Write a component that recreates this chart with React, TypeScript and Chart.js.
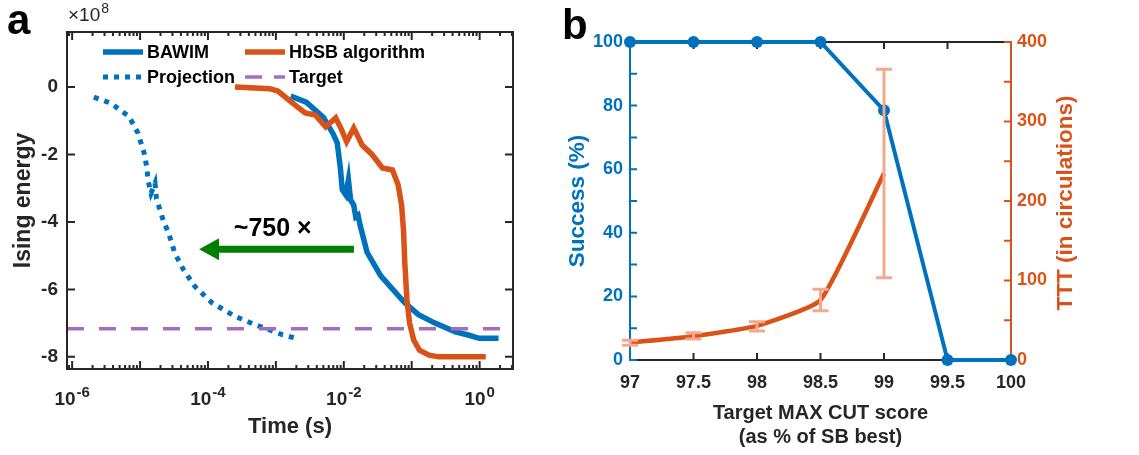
import React, { useEffect, useRef } from 'react';
import { Chart, registerables } from 'chart.js';
Chart.register(...registerables);

const FONT = '"Liberation Sans", Arial, Helvetica, sans-serif';
const DARK = '#262626';
const BLUE = '#0072BD';
const ORANGE = '#D95319';
const PURPLE = '#A66DBF';
const ERR = '#F2A98C';
const GREEN = '#008000';

// ---------- Panel a data (energy in units of 1e8) ----------
const bawimTime = [1.65e-3, 2.8e-3, 5e-3, 7e-3, 8e-3, 8.9e-3, 9.5e-3, 1.07e-2, 1.17e-2, 1.26e-2, 1.4e-2, 1.5e-2, 1.62e-2, 1.74e-2, 2.2e-2, 3.5e-2, 7.9e-2, 0.126, 0.22, 0.44, 0.7, 0.98, 1.9];
const bawimEnergy = [-0.27, -0.45, -0.9, -1.4, -1.66, -2.4, -3.05, -3.2, -2.75, -3.35, -3.5, -3.85, -3.8, -4.1, -4.9, -5.6, -6.4, -6.75, -7.0, -7.26, -7.36, -7.45, -7.45];
const hbsbTime = [2.5e-4, 8.1e-4, 1.07e-3, 1.9e-3, 2.7e-3, 3.8e-3, 5.4e-3, 7.6e-3, 9.3e-3, 1.1e-2, 1.4e-2, 1.86e-2, 2.6e-2, 3.7e-2, 5.2e-2, 6.3e-2, 7.1e-2, 7.6e-2, 7.9e-2, 8.5e-2, 9.3e-2, 0.107, 0.13, 0.18, 0.25, 1.23];
const hbsbEnergy = [0, -0.05, -0.12, -0.53, -0.77, -0.83, -1.18, -0.92, -1.27, -1.62, -1.22, -1.72, -2.0, -2.4, -2.46, -2.9, -3.5, -4.3, -5.2, -6.3, -7.0, -7.5, -7.8, -7.95, -8.0, -8.0];
const projTime = [2.09e-6, 3.72e-6, 6.9e-6, 9.3e-6, 1.15e-5, 1.26e-5, 1.32e-5, 1.45e-5, 1.66e-5, 1.74e-5, 1.9e-5, 2.19e-5, 2.63e-5, 3.24e-5, 4.37e-5, 6.46e-5, 1.15e-4, 2.51e-4, 5.0e-4, 8.1e-4, 1.26e-3, 2.0e-3];
const projEnergy = [-0.3, -0.48, -0.88, -1.36, -1.96, -2.4, -2.8, -3.15, -2.85, -3.3, -3.55, -3.95, -4.33, -4.92, -5.42, -5.92, -6.4, -6.8, -7.05, -7.2, -7.35, -7.45];
const targetEnergy = -7.17;
const timeRange = [8.4e-7, 3.1];
const energyRange = [-8.36, 1.63];
const energyTicks = [-8, -6, -4, -2, 0];
const timeLabelExps = [-6, -4, -2, 0];
const arrowFrom = { x: 0.0141, y: -4.81 };
const arrowTo = { x: 7.4e-5, y: -4.81 };
const speedupLabel = '~750 ×';
const speedupPos = { x: 9e-4, y: -4.2 };
const legendLabels = ['BAWIM', 'HbSB algorithm', 'Projection', 'Target'];

// ---------- Panel b data ----------
const cutScore = [97, 97.5, 98, 98.5, 99, 99.5, 100];
const successPct = [100, 100, 100, 100, 78.5, 0, 0];
const tttScore = [97, 97.5, 98, 98.5, 99];
const tttMean = [22, 30, 43, 75.5, 235];
const tttLow = [18.5, 26.3, 36.5, 62, 103.5];
const tttHigh = [25, 34.3, 48, 89, 365.6];
const cutTicks = [97, 97.5, 98, 98.5, 99, 99.5, 100];
const successTicks = [0, 20, 40, 60, 80, 100];
const successTickMarks = [0, 10, 20, 30, 40, 50, 60, 70, 80, 90, 100];
const tttTicks = [0, 100, 200, 300, 400];
const tttTickMarks = [0, 50, 100, 150, 200, 250, 300, 350, 400];

const W_A = 560;
const W_B = 579;
const H = 455;

const panelAPlugin = {
  id: 'panelA',
  afterDatasetsDraw(chart: any) {
    const { ctx, chartArea } = chart;
    const { left, right, top, bottom } = chartArea;
    const xs = chart.scales.x;
    const ys = chart.scales.y;
    ctx.save();
    ctx.strokeStyle = DARK;
    ctx.lineWidth = 2;
    ctx.strokeRect(left, top, right - left, bottom - top);
    ctx.beginPath();
    energyTicks.forEach((v) => {
      const py = ys.getPixelForValue(v);
      ctx.moveTo(left, py); ctx.lineTo(left + 8, py);
      ctx.moveTo(right, py); ctx.lineTo(right - 8, py);
    });
    const [mn, mx] = timeRange;
    for (let d = -7; d <= 1; d++) {
      for (let m = 1; m <= 9; m++) {
        const v = m * Math.pow(10, d);
        if (v < mn || v > mx) continue;
        const px = xs.getPixelForValue(v);
        const len = m === 1 ? 8 : 4;
        ctx.moveTo(px, bottom); ctx.lineTo(px, bottom - len);
        ctx.moveTo(px, top); ctx.lineTo(px, top + len);
      }
    }
    ctx.stroke();
    ctx.fillStyle = DARK;
    ctx.textBaseline = 'alphabetic';
    ctx.textAlign = 'left';
    timeLabelExps.forEach((e) => {
      const px = xs.getPixelForValue(Math.pow(10, e));
      ctx.font = `bold 19px ${FONT}`;
      const w1 = ctx.measureText('10').width;
      ctx.font = `bold 15px ${FONT}`;
      const es = String(e);
      const w2 = ctx.measureText(es).width;
      const x0 = px - (w1 + w2 + 1) / 2;
      ctx.font = `bold 19px ${FONT}`;
      ctx.fillText('10', x0, bottom + 36);
      ctx.font = `bold 15px ${FONT}`;
      ctx.fillText(es, x0 + w1 + 1, bottom + 28);
    });
    ctx.font = `19px ${FONT}`;
    ctx.fillText('×10', left + 1, top - 11);
    const wm = ctx.measureText('×10').width;
    ctx.font = `14px ${FONT}`;
    ctx.fillText('8', left + 2 + wm, top - 19);

    const rows = [top + 20, top + 45];
    const cols = [left + 36, left + 178];
    const items = [
      { label: legendLabels[0], color: BLUE, dash: [] as number[], w: 5.5, r: 0, c: 0 },
      { label: legendLabels[1], color: ORANGE, dash: [] as number[], w: 5.5, r: 0, c: 1 },
      { label: legendLabels[2], color: BLUE, dash: [5, 6], w: 5, r: 1, c: 0 },
      { label: legendLabels[3], color: PURPLE, dash: [17, 12], w: 3.5, r: 1, c: 1 },
    ];
    items.forEach((it) => {
      const y = rows[it.r];
      const x = cols[it.c];
      ctx.beginPath();
      ctx.setLineDash(it.dash);
      ctx.lineCap = 'butt';
      ctx.strokeStyle = it.color;
      ctx.lineWidth = it.w;
      ctx.moveTo(x, y); ctx.lineTo(x + 40, y);
      ctx.stroke();
      ctx.setLineDash([]);
      ctx.font = `bold 18px ${FONT}`;
      ctx.fillStyle = '#000';
      ctx.textBaseline = 'middle';
      ctx.fillText(it.label, x + 44, y + 1);
    });

    const x1 = xs.getPixelForValue(arrowFrom.x);
    const x2 = xs.getPixelForValue(arrowTo.x);
    const ay = ys.getPixelForValue(arrowFrom.y);
    ctx.fillStyle = GREEN;
    const headLen = 20, headHalf = 11, shaft = 7;
    ctx.fillRect(x2 + headLen - 1, ay - shaft / 2, x1 - (x2 + headLen - 1), shaft);
    ctx.beginPath();
    ctx.moveTo(x2, ay);
    ctx.lineTo(x2 + headLen, ay - headHalf);
    ctx.lineTo(x2 + headLen, ay + headHalf);
    ctx.closePath();
    ctx.fill();
    ctx.fillStyle = '#000';
    ctx.font = `bold 25px ${FONT}`;
    ctx.textAlign = 'center';
    ctx.textBaseline = 'middle';
    ctx.fillText(speedupLabel, xs.getPixelForValue(speedupPos.x), ys.getPixelForValue(speedupPos.y));
    ctx.restore();
  },
};

const panelBPlugin = {
  id: 'panelB',
  beforeDatasetsDraw(chart: any) {
    const { ctx, chartArea } = chart;
    const { left, right, top, bottom } = chartArea;
    const xs = chart.scales.x;
    const ys = chart.scales.y;
    const y2 = chart.scales.y2;
    ctx.save();
    ctx.lineWidth = 2;
    ctx.strokeStyle = DARK;
    ctx.beginPath();
    ctx.moveTo(left, top); ctx.lineTo(right, top);
    ctx.moveTo(left, bottom); ctx.lineTo(right, bottom);
    cutTicks.forEach((v) => {
      const px = xs.getPixelForValue(v);
      ctx.moveTo(px, bottom); ctx.lineTo(px, bottom - 7);
      ctx.moveTo(px, top); ctx.lineTo(px, top + 7);
    });
    ctx.stroke();
    ctx.strokeStyle = BLUE;
    ctx.beginPath();
    ctx.moveTo(left, top - 1); ctx.lineTo(left, bottom + 1);
    successTickMarks.forEach((v) => {
      const py = ys.getPixelForValue(v);
      ctx.moveTo(left, py); ctx.lineTo(left + 7, py);
    });
    ctx.stroke();
    ctx.strokeStyle = ORANGE;
    ctx.beginPath();
    ctx.moveTo(right, top - 1); ctx.lineTo(right, bottom + 1);
    tttTickMarks.forEach((v) => {
      const py = y2.getPixelForValue(v);
      ctx.moveTo(right, py); ctx.lineTo(right - 7, py);
    });
    ctx.stroke();
    ctx.restore();
  },
  afterDatasetsDraw(chart: any) {
    const { ctx, chartArea } = chart;
    const xs = chart.scales.x;
    const y2 = chart.scales.y2;
    ctx.save();
    ctx.strokeStyle = ERR;
    ctx.lineWidth = 3;
    ctx.beginPath();
    tttScore.forEach((s, i) => {
      const px = xs.getPixelForValue(s);
      const lo = y2.getPixelForValue(tttLow[i]);
      const hi = y2.getPixelForValue(tttHigh[i]);
      ctx.moveTo(px, lo); ctx.lineTo(px, hi);
      ctx.moveTo(px - 8, lo); ctx.lineTo(px + 8, lo);
      ctx.moveTo(px - 8, hi); ctx.lineTo(px + 8, hi);
    });
    ctx.stroke();
    ctx.fillStyle = ORANGE;
    ctx.font = `bold 22.5px ${FONT}`;
    ctx.textAlign = 'center';
    ctx.textBaseline = 'middle';
    ctx.translate(506, (chartArea.top + chartArea.bottom) / 2 + 2);
    ctx.rotate(-Math.PI / 2);
    ctx.fillText('TTT (in circulations)', 0, 0);
    ctx.restore();
  },
};

function PanelA() {
  const ref = useRef<HTMLCanvasElement>(null);
  useEffect(() => {
    const pts = (xs: number[], ys: number[]) => xs.map((x, i) => ({ x, y: ys[i] }));
    const chart = new Chart(ref.current!, {
      type: 'line',
      data: {
        datasets: [
          { label: 'Target', data: [{ x: timeRange[0], y: targetEnergy }, { x: timeRange[1], y: targetEnergy }], borderColor: PURPLE, borderWidth: 3.5, borderDash: [17, 15], pointRadius: 0, order: 0 },
          { label: 'HbSB algorithm', data: pts(hbsbTime, hbsbEnergy), borderColor: ORANGE, borderWidth: 5.5, pointRadius: 0, order: 1 },
          { label: 'BAWIM', data: pts(bawimTime, bawimEnergy), borderColor: BLUE, borderWidth: 5.5, pointRadius: 0, order: 2 },
          { label: 'Projection', data: pts(projTime, projEnergy), borderColor: BLUE, borderWidth: 5, borderDash: [5, 6], pointRadius: 0, order: 3 },
        ],
      },
      options: {
        animation: false,
        responsive: false,
        devicePixelRatio: 1,
        layout: { padding: { top: 32, right: 47, bottom: 0, left: 0 } },
        plugins: { legend: { display: false }, tooltip: { enabled: false } },
        scales: {
          x: {
            type: 'logarithmic',
            min: timeRange[0],
            max: timeRange[1],
            grid: { display: false, drawTicks: false },
            border: { display: false },
            ticks: { display: false },
            title: { display: true, text: 'Time (s)', color: DARK, font: { family: FONT, size: 22, weight: 'bold' }, padding: { top: 0, bottom: 15 } },
            afterFit: (s: any) => { s.height = 86; },
          },
          y: {
            type: 'linear',
            min: energyRange[0],
            max: energyRange[1],
            grid: { display: false, drawTicks: false },
            border: { display: false },
            afterBuildTicks: (s: any) => { s.ticks = energyTicks.map((v) => ({ value: v })); },
            ticks: { color: DARK, font: { family: FONT, size: 19, weight: 'bold' }, padding: 9, callback: (v: any) => String(v) },
            title: { display: true, text: 'Ising energy', color: DARK, font: { family: FONT, size: 23, weight: 'bold' }, padding: { top: 10, bottom: 0 } },
            afterFit: (s: any) => { s.width = 67; },
          },
        },
      } as any,
      plugins: [panelAPlugin],
    });
    return () => chart.destroy();
  }, []);
  return <canvas ref={ref} width={W_A} height={H} style={{ position: 'absolute', left: 0, top: 0, width: W_A, height: H }} />;
}

function PanelB() {
  const ref = useRef<HTMLCanvasElement>(null);
  useEffect(() => {
    const chart = new Chart(ref.current!, {
      type: 'line',
      data: {
        datasets: [
          { label: 'TTT', data: tttScore.map((x, i) => ({ x, y: tttMean[i] })), yAxisID: 'y2', borderColor: ORANGE, borderWidth: 4.5, pointRadius: 0, tension: 0.15, order: 0 },
          { label: 'Success', data: cutScore.map((x, i) => ({ x, y: successPct[i] })), yAxisID: 'y', borderColor: BLUE, borderWidth: 4, pointRadius: 6, pointBackgroundColor: BLUE, pointBorderWidth: 0, clip: false, order: 1 },
        ],
      },
      options: {
        animation: false,
        responsive: false,
        devicePixelRatio: 1,
        layout: { padding: { top: 42, right: 68, bottom: 0, left: 0 } },
        plugins: { legend: { display: false }, tooltip: { enabled: false } },
        scales: {
          x: {
            type: 'linear',
            min: 97,
            max: 100,
            grid: { display: false, drawTicks: false },
            border: { display: false },
            afterBuildTicks: (s: any) => { s.ticks = cutTicks.map((v) => ({ value: v })); },
            ticks: { color: DARK, font: { family: FONT, size: 18, weight: 'bold' }, padding: 12, maxRotation: 0, autoSkip: false, callback: (v: any) => String(v) },
            title: { display: true, text: ['Target MAX CUT score', '(as % of SB best)'], color: DARK, font: { family: FONT, size: 20, weight: 'bold', lineHeight: 1.2 }, padding: { top: 0, bottom: 6 } },
            afterFit: (s: any) => { s.height = 95; },
          },
          y: {
            type: 'linear',
            position: 'left',
            min: 0,
            max: 100,
            grid: { display: false, drawTicks: false },
            border: { display: false },
            afterBuildTicks: (s: any) => { s.ticks = successTicks.map((v) => ({ value: v })); },
            ticks: { color: BLUE, font: { family: FONT, size: 18, weight: 'bold' }, padding: 7, callback: (v: any) => String(v) },
            title: { display: true, text: 'Success (%)', color: BLUE, font: { family: FONT, size: 22.5, weight: 'bold' }, padding: { top: 4, bottom: 0 } },
            afterFit: (s: any) => { s.width = 70; },
          },
          y2: {
            type: 'linear',
            position: 'right',
            min: 0,
            max: 400,
            grid: { display: false, drawTicks: false },
            border: { display: false },
            afterBuildTicks: (s: any) => { s.ticks = tttTicks.map((v) => ({ value: v })); },
            ticks: { color: ORANGE, font: { family: FONT, size: 18, weight: 'bold' }, padding: 6, callback: (v: any) => String(v) },
            afterFit: (s: any) => { s.width = 60; },
          },
        },
      } as any,
      plugins: [panelBPlugin],
    });
    return () => chart.destroy();
  }, []);
  return <canvas ref={ref} width={W_B} height={H} style={{ position: 'absolute', left: W_A, top: 0, width: W_B, height: H }} />;
}

export default function App() {
  const letter: React.CSSProperties = { position: 'absolute', fontFamily: FONT, fontWeight: 'bold', fontSize: 42, lineHeight: '42px', color: '#000' };
  return (
    <div style={{ position: 'absolute', left: 0, top: 0, width: 1139, height: H, background: '#fff', overflow: 'hidden' }}>
      <PanelA />
      <PanelB />
      <div style={{ ...letter, left: 7, top: -1 }}>a</div>
      <div style={{ ...letter, left: 562, top: 4 }}>b</div>
    </div>
  );
}
